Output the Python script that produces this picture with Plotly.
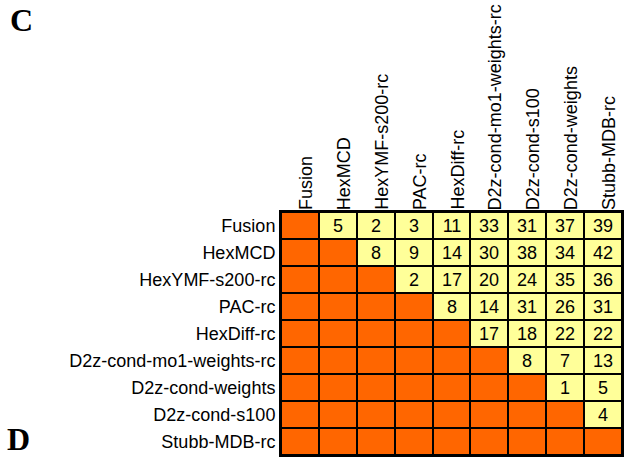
import plotly.graph_objects as go

col_labels = ["Fusion", "HexMCD", "HexYMF-s200-rc", "PAC-rc", "HexDiff-rc",
              "D2z-cond-mo1-weights-rc", "D2z-cond-s100", "D2z-cond-weights", "Stubb-MDB-rc"]
row_labels = ["Fusion", "HexMCD", "HexYMF-s200-rc", "PAC-rc", "HexDiff-rc",
              "D2z-cond-mo1-weights-rc", "D2z-cond-weights", "D2z-cond-s100", "Stubb-MDB-rc"]

# upper-triangle values, row by row (columns to the right of the diagonal)
row_fusion = [5, 2, 3, 11, 33, 31, 37, 39]
row_hexmcd = [8, 9, 14, 30, 38, 34, 42]
row_hexymf = [2, 17, 20, 24, 35, 36]
row_pac = [8, 14, 31, 26, 31]
row_hexdiff = [17, 18, 22, 22]
row_d2z_mo1 = [8, 7, 13]
row_d2z_weights = [1, 5]
row_d2z_s100 = [4]
row_stubb = []

upper_rows = [row_fusion, row_hexmcd, row_hexymf, row_pac, row_hexdiff,
              row_d2z_mo1, row_d2z_weights, row_d2z_s100, row_stubb]

n = len(col_labels)
z = []
text = []
for i, vals in enumerate(upper_rows):
    zr, tr = [], []
    for j in range(n):
        if j > i:
            zr.append(1)
            tr.append(str(vals[j - i - 1]))
        else:
            zr.append(0)
            tr.append("")
    z.append(zr)
    text.append(tr)

ORANGE = "#FF6600"
YELLOW = "#FFFF99"
SANS = "Liberation Sans, Arial"
SERIF = "Liberation Serif, Times New Roman"

fig = go.Figure(go.Heatmap(
    z=z, x=col_labels, y=row_labels, text=text,
    texttemplate="%{text}",
    textfont=dict(family=SANS, size=18, color="black"),
    colorscale=[[0, ORANGE], [0.5, ORANGE], [0.5, YELLOW], [1, YELLOW]],
    zmin=0, zmax=1, showscale=False, xgap=2, ygap=2, hoverinfo="skip",
))

annotations = []
for c in col_labels:
    annotations.append(dict(
        x=c, y=1, xref="x", yref="paper", text=c, textangle=-90,
        showarrow=False, xanchor="center", yanchor="bottom", xshift=6, yshift=0,
        font=dict(family=SANS, size=18, color="black"),
    ))

annotations.append(dict(x=-0.80, y=1.79, xref="paper", yref="paper", text="<b>C</b>",
                        showarrow=False, xanchor="left", yanchor="middle",
                        font=dict(family=SERIF, size=32, color="black")))
annotations.append(dict(x=-0.81, y=0.066, xref="paper", yref="paper", text="<b>D</b>",
                        showarrow=False, xanchor="left", yanchor="middle",
                        font=dict(family=SERIF, size=32, color="black")))

fig.update_layout(
    width=625, height=457,
    margin=dict(l=281, r=3, t=212, b=2),
    paper_bgcolor="white", plot_bgcolor="black",
    annotations=annotations,
    font=dict(family=SANS, size=18, color="black"),
)
fig.update_xaxes(type="category", showticklabels=False, showgrid=False, zeroline=False,
                 showline=True, linecolor="black", linewidth=2, mirror=True, ticks="")
fig.update_yaxes(type="category", autorange="reversed", showgrid=False, zeroline=False,
                 showline=True, linecolor="black", linewidth=2, mirror=True, ticks="",
                 tickfont=dict(family=SANS, size=18, color="black"))

fig.write_html("out.html", config={"displayModeBar": False},
               post_script="document.body.style.margin='0';document.body.style.overflow='hidden';")
